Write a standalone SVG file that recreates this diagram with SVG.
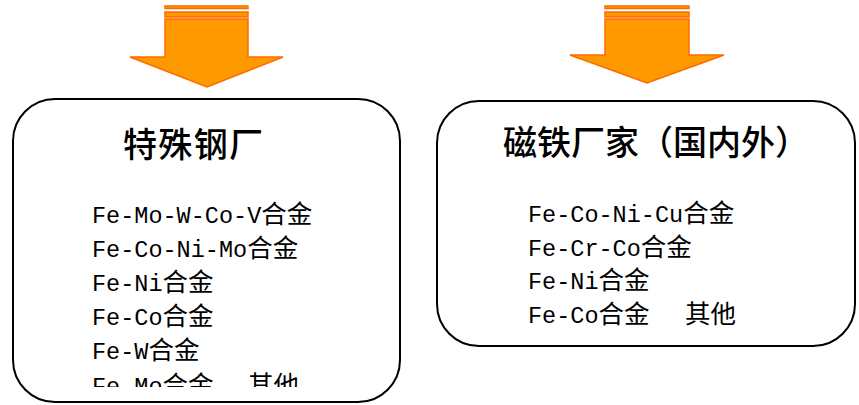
<svg xmlns="http://www.w3.org/2000/svg" width="859" height="405" viewBox="0 0 859 405">
<style>
.arrow{fill:#FF9900;stroke:#FF6A00;stroke-width:1.5;stroke-linejoin:miter}
.box{fill:#FFFFFF;stroke:#000000;stroke-width:2}
.title{font-family:"Noto Sans CJK SC","Noto Sans",sans-serif;font-size:34px;font-weight:500;fill:#000}
.item{font-family:"Liberation Mono","DejaVu Sans Mono","Noto Sans CJK SC",monospace;font-size:23.5px;fill:#000}
.cjk{font-family:"Noto Sans CJK SC",sans-serif;font-size:25.5px}
</style>
<defs>
<clipPath id="clipL"><rect x="14" y="100" width="386" height="287"/></clipPath>
</defs>
<rect width="859" height="405" fill="#FFFFFF"/>
<g id="connectors">
<g id="arrow-left">
<rect class="arrow" x="165" y="6" width="83" height="2.5"/>
<rect class="arrow" x="165" y="12" width="83" height="5"/>
<polygon class="arrow" points="165,19 248,19 248,57 283,57 207,87 130,57 165,57"/>
</g>
<g id="arrow-right">
<rect class="arrow" x="605" y="6" width="84" height="2.5"/>
<rect class="arrow" x="605" y="12" width="84" height="5"/>
<polygon class="arrow" points="605,19 689,19 689,55 724,55 647,83 570,55 605,55"/>
</g>
</g>
<g id="node-special-steel">
<rect class="box" x="13" y="99" width="387" height="303" rx="42" ry="42"/>
<text class="title" x="193" y="157" text-anchor="middle" textLength="140">特殊钢厂</text>
<g clip-path="url(#clipL)">
<text class="item" x="92" y="223">Fe-Mo-W-Co-V<tspan class="cjk">合金</tspan></text>
<text class="item" x="92" y="257">Fe-Co-Ni-Mo<tspan class="cjk">合金</tspan></text>
<text class="item" x="92" y="291">Fe-Ni<tspan class="cjk">合金</tspan></text>
<text class="item" x="92" y="325">Fe-Co<tspan class="cjk">合金</tspan></text>
<text class="item" x="92" y="359">Fe-W<tspan class="cjk">合金</tspan></text>
<text class="item" x="92" y="394">Fe-Mo<tspan class="cjk">合金</tspan><tspan class="cjk" x="248">其他</tspan></text>
</g>
</g>
<g id="node-magnet">
<rect class="box" x="437" y="101" width="418" height="245" rx="42" ry="42"/>
<text class="title" x="656" y="155" text-anchor="middle">磁铁厂家（国内外）</text>
<text class="item" x="528" y="222">Fe-Co-Ni-Cu<tspan class="cjk">合金</tspan></text>
<text class="item" x="528" y="256">Fe-Cr-Co<tspan class="cjk">合金</tspan></text>
<text class="item" x="528" y="289">Fe-Ni<tspan class="cjk">合金</tspan></text>
<text class="item" x="528" y="323">Fe-Co<tspan class="cjk">合金</tspan><tspan class="cjk" x="685">其他</tspan></text>
</g>
</svg>
